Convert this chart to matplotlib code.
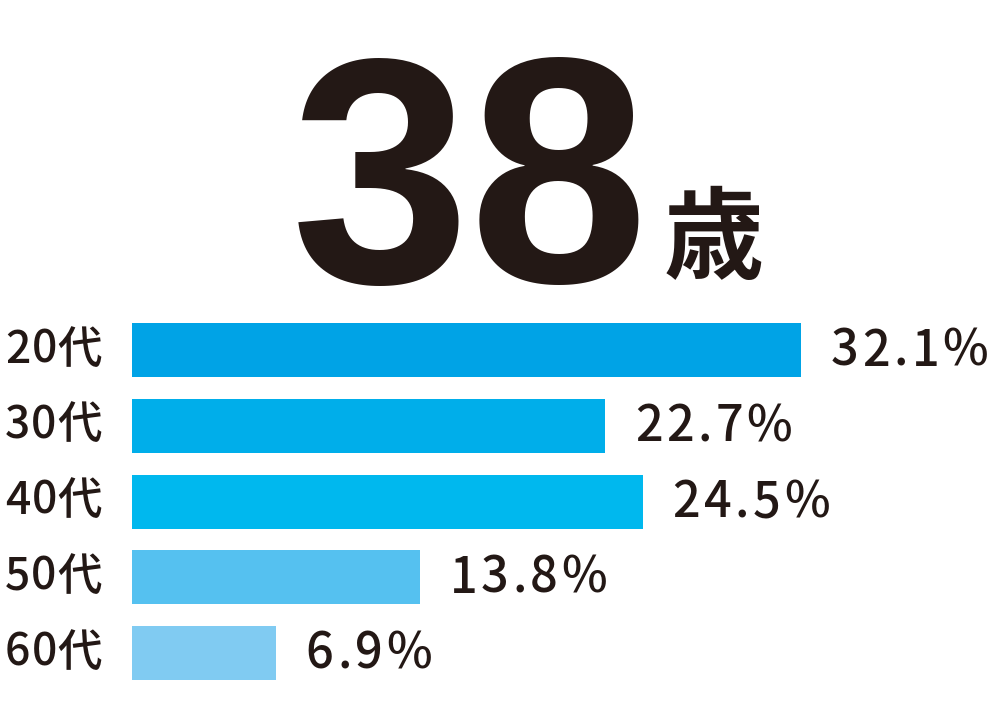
import matplotlib
matplotlib.use("Agg")
import matplotlib.pyplot as plt
from matplotlib.transforms import blended_transform_factory

# データ
categories = ["20代", "30代", "40代", "50代", "60代"]
values = [32.1, 22.7, 24.5, 13.8, 6.9]
value_labels = ["32.1%", "22.7%", "24.5%", "13.8%", "6.9%"]
average_age = "38"
age_unit = "歳"

colors = ["#00a3e6", "#00aeea", "#00b8ee", "#55c1f0", "#80cbf2"]
text_color = "#231815"

plt.rcParams['font.family'] = ['Noto Sans CJK JP', 'DejaVu Sans']

fig = plt.figure(figsize=(10, 7.05), dpi=100)
W, H = 1000, 705

# 棒グラフ領域 (x=132px から右端まで)
ax = fig.add_axes([132 / W, 0, 1 - 132 / W, 1])
px_per_pct = 669 / 32.1
ax.set_xlim(0, (W - 132) / px_per_pct)
step = 75.75
ax.set_ylim((H - 350) / step, -350 / step)
ax.axis("off")

y = list(range(len(categories)))
ax.barh(y, values, height=54 / step, color=colors, left=0)

trans = blended_transform_factory(fig.transFigure, ax.transData)
renderer = fig.canvas.get_renderer()


# 字間を広げて1文字ずつ描く
def tracked_text(x_px, yv, s, tracking, **kw):
    for ch in s:
        t = ax.text(x_px / W, yv, ch, transform=trans, ha="left", **kw)
        w = t.get_window_extent(renderer).width
        x_px += w + tracking


for i, (v, lab) in enumerate(zip(values, value_labels)):
    x0 = 132 + v * px_per_pct + 30
    tracked_text(x0, i + 0.02, lab, 3.5, va="center", fontsize=35,
                 color=text_color, fontweight="medium")

for i, cat in enumerate(categories):
    tracked_text(5, i, cat, 1.0, va="center", fontsize=32,
                 color=text_color, fontweight="medium")

# 平均年齢
fig.text(291 / W, 1 - 282 / H, average_age, ha="left", va="baseline",
         fontsize=232, fontweight="bold", color=text_color,
         family=["Liberation Sans", "DejaVu Sans"])
fig.text(664 / W, 1 - 271 / H, age_unit, ha="left", va="baseline",
         fontsize=72, fontweight="bold", color=text_color)

fig.savefig("out.png", dpi=100, facecolor="white")
